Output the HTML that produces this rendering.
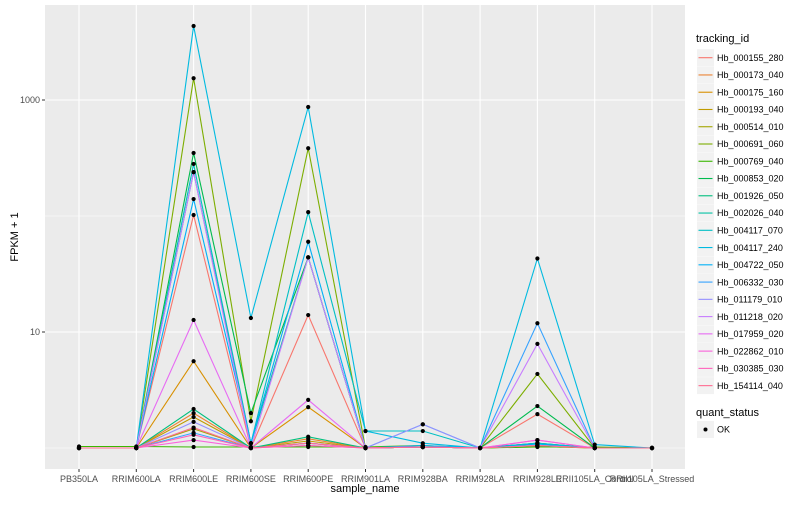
<!DOCTYPE html>
<html><head><meta charset="utf-8"><style>
body{margin:0;background:#fff;font-family:"Liberation Sans",sans-serif;}
svg text{font-family:"Liberation Sans",sans-serif;}
</style></head><body>
<svg id="chart" width="800" height="500" xmlns="http://www.w3.org/2000/svg">
<rect x="45" y="5" width="640" height="464" fill="#EBEBEB"/>
<g id="grid"></g><g id="series"></g><g id="axes"></g><g id="legend"></g>
<text x="18" y="237" transform="rotate(-90 18 237)" text-anchor="middle" font-size="11" fill="#000">FPKM + 1</text>
<text x="365" y="492" text-anchor="middle" font-size="11" fill="#000">sample_name</text>
</svg>
<script>
const categories=["PB350LA","RRIM600LA","RRIM600LE","RRIM600SE","RRIM600PE","RRIM901LA","RRIM928BA","RRIM928LA","RRIM928LE","RRII105LA_Control","RRII105LA_Stressed"];
const seriesNames=["Hb_000155_280","Hb_000173_040","Hb_000175_160","Hb_000193_040","Hb_000514_010","Hb_000691_060","Hb_000769_040","Hb_000853_020","Hb_001926_050","Hb_002026_040","Hb_004117_070","Hb_004117_240","Hb_004722_050","Hb_006332_030","Hb_011179_010","Hb_011218_020","Hb_017959_020","Hb_022862_010","Hb_030385_030","Hb_154114_040"];
const colors=["#F8766D","#EA8331","#D89000","#C09B00","#A3A500","#7CAE00","#39B600","#00BB4E","#00BF7D","#00C1A3","#00BFC4","#00BAE0","#00B0F6","#35A2FF","#9590FF","#C77CFF","#E76BF3","#FA62DB","#FF62BC","#FF6C91"];
const s00=[1,1,102,1,14,1,1.02,1,1.96,1,1];
const s01=[1,1,2.0,1,1.2,1,1.02,1,1.05,1,1];
const s02=[1,1,5.6,1,2.25,1,1.02,1,1.05,1,1];
const s03=[1,1,1.85,1,1.15,1,1.02,1,1.03,1,1];
const s04=[1,1,1.46,1,1.1,1,1.02,1,1.03,1,1];
const s05=[1,1,1540,1.7,384,1,1.02,1,4.35,1,1];
const s06=[1.03,1.03,1.02,1.02,1.02,1.02,1.05,1,1.02,1.02,1];
const s07=[1,1,349,2.0,44,1,1.02,1,2.3,1,1];
const s08=[1,1,2.17,1,1.25,1,1.02,1,1.1,1,1];
const s09=[1,1,239,1.1,44,1,1.02,1,1.1,1,1];
const s10=[1,1,281,1.1,108,1.4,1.4,1,1.1,1,1];
const s11=[1,1,4345,13.2,870,1.4,1.1,1,43,1.07,1];
const s12=[1,1,140,1.1,60,1,1.05,1,1.08,1,1];
const s13=[1,1,1.35,1,1.1,1,1.6,1,11.9,1,1];
const s14=[1,1,1.68,1,1.1,1,1.6,1,1.05,1,1];
const s15=[1,1,239,1,44,1,1.02,1,7.9,1,1];
const s16=[1,1,12.7,1,2.6,1,1.02,1,1.17,1,1];
const s17=[1,1,1.17,1,1.05,1,1.02,1,1.17,1,1];
const s18=[1,1,1.3,1,1.05,1,1.02,1,1.05,1,1];
const s19=[1,1,1.5,1,1.1,1,1.02,1,1.05,1,1];
const seriesValues=[s00,s01,s02,s03,s04,s05,s06,s07,s08,s09,s10,s11,s12,s13,s14,s15,s16,s17,s18,s19];
const yTicks=[10,1000];
const yMinor=[1,100];
const NS="http://www.w3.org/2000/svg";
const xScale=i=>79+i*57.3;
const yScale=v=>448-116*Math.log10(v);
function mk(tag,attrs,parent){const e=document.createElementNS(NS,tag);for(const k in attrs)e.setAttribute(k,attrs[k]);parent.appendChild(e);return e;}
const grid=document.getElementById('grid'),ser=document.getElementById('series'),axes=document.getElementById('axes'),leg=document.getElementById('legend');
yMinor.forEach(v=>{const l=mk('line',{x1:45,x2:685,y1:yScale(v),y2:yScale(v),stroke:'#fff','stroke-width':0.5},grid);

});
yTicks.forEach(v=>{const l=mk('line',{x1:45,x2:685,y1:yScale(v),y2:yScale(v),stroke:'#fff','stroke-width':1.1},grid);


const t=mk('line',{x1:42,x2:45,y1:yScale(v),y2:yScale(v),stroke:'#333'},axes);


const tx=mk('text',{x:40,y:yScale(v)+3,'text-anchor':'end','font-size':9,fill:'#4D4D4D'},axes);tx.textContent=v;

});
categories.forEach((c,i)=>{const x=xScale(i);
const l=mk('line',{x1:x,x2:x,y1:5,y2:469,stroke:'#fff','stroke-width':1.1},grid);


const t=mk('line',{x1:x,x2:x,y1:469,y2:472,stroke:'#333'},axes);


const tx=mk('text',{x:x,y:482,'text-anchor':'middle','font-size':9,fill:'#4D4D4D'},axes);tx.textContent=c;

});
seriesValues.forEach((vals,s)=>{
const pts=vals.map((v,i)=>xScale(i).toFixed(1)+','+yScale(v).toFixed(1)).join(' ');
const pl=mk('polyline',{points:pts,fill:'none',stroke:colors[s],'stroke-width':1.1},ser);

});
seriesValues.forEach((vals,s)=>{vals.forEach((v,i)=>{
const p=mk('circle',{cx:xScale(i),cy:yScale(v),r:2.1,fill:'#000'},ser);

});});
const lt=mk('text',{x:696,y:42,'font-size':11,fill:'#000'},leg);lt.textContent='tracking_id';


seriesNames.forEach((n,s)=>{const cy=57.7+s*17.26;
const g=mk('g',{},leg);


mk('rect',{x:697,y:cy-8.5,width:17,height:17,fill:'#F2F2F2'},g);
mk('line',{x1:698.5,x2:712.5,y1:cy,y2:cy,stroke:colors[s],'stroke-width':1.1},g);
const t=mk('text',{x:717,y:cy+3.2,'font-size':9,fill:'#000'},g);t.textContent=n;});
const qt=mk('text',{x:696,y:416,'font-size':11,fill:'#000'},leg);qt.textContent='quant_status';


const qg=mk('g',{},leg);


mk('rect',{x:697,y:421,width:17,height:17,fill:'#F2F2F2'},qg);
mk('circle',{cx:705.5,cy:429.5,r:2,fill:'#000'},qg);
const ok=mk('text',{x:717,y:432.5,'font-size':9,fill:'#000'},qg);ok.textContent='OK';
</script>
</body></html>
